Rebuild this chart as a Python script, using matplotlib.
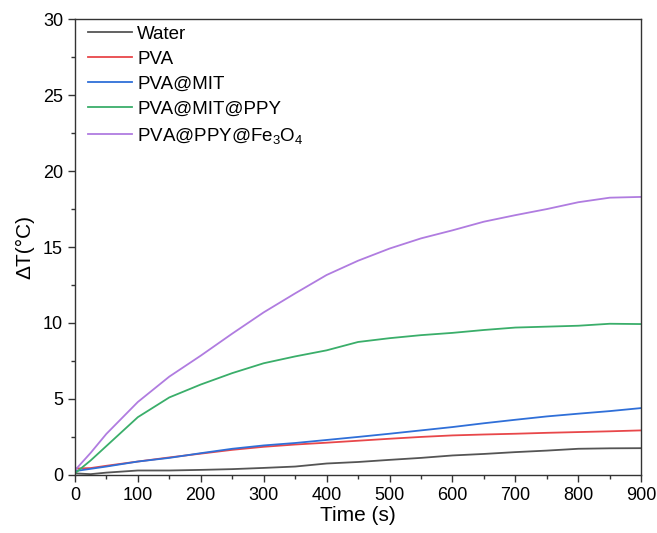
import matplotlib
matplotlib.use("Agg")
import matplotlib.pyplot as plt
from matplotlib.ticker import MultipleLocator

plt.rcParams['font.family'] = ['Liberation Sans', 'DejaVu Sans']
plt.rcParams['mathtext.fontset'] = 'custom'
plt.rcParams['mathtext.rm'] = 'Liberation Sans'
plt.rcParams['mathtext.it'] = 'Liberation Sans'

# time points (s)
t = [0, 25, 50, 100, 150, 200, 250, 300, 350, 400, 450, 500, 550, 600,
     650, 700, 750, 800, 850, 900]

# temperature rise
water = [0.1, 0.05, 0.15, 0.29, 0.29, 0.33, 0.38, 0.46, 0.55, 0.75, 0.85, 0.99, 1.12, 1.28,
         1.38, 1.5, 1.6, 1.72, 1.75, 1.76]
pva = [0.42, 0.45, 0.6, 0.88, 1.15, 1.4, 1.65, 1.85, 2.0, 2.12, 2.25, 2.38, 2.5, 2.6,
       2.66, 2.71, 2.77, 2.82, 2.87, 2.93]
pva_mit = [0.25, 0.4, 0.55, 0.88, 1.12, 1.43, 1.72, 1.94, 2.1, 2.3, 2.5, 2.71, 2.93, 3.15,
           3.4, 3.63, 3.85, 4.03, 4.2, 4.4]
pva_mit_ppy = [0.1, 0.95, 1.9, 3.8, 5.1, 5.95, 6.7, 7.35, 7.8, 8.2, 8.75, 9.0, 9.2, 9.35,
               9.54, 9.7, 9.76, 9.82, 9.95, 9.93]
pva_ppy_fe = [0.3, 1.45, 2.7, 4.8, 6.47, 7.85, 9.3, 10.7, 11.95, 13.16, 14.1, 14.9, 15.57, 16.1,
              16.67, 17.1, 17.5, 17.95, 18.25, 18.3]

labels = ['Water', 'PVA', 'PVA@MIT', 'PVA@MIT@PPY', 'PVA@PPY@Fe$_3$O$_4$']
colors = ['#555555', '#e8474a', '#2f6fd8', '#3aae6a', '#b07ce0']
series = [water, pva, pva_mit, pva_mit_ppy, pva_ppy_fe]

fig = plt.figure(figsize=(6.57, 5.33), dpi=100)
ax = fig.add_axes([0.114, 0.109, 0.862, 0.855])

for y, lab, c in zip(series, labels, colors):
    ax.plot(t, y, color=c, lw=1.3, label=lab)

ax.set_xlim(0, 900)
ax.set_ylim(0, 30)
ax.xaxis.set_major_locator(MultipleLocator(100))
ax.xaxis.set_minor_locator(MultipleLocator(50))
ax.yaxis.set_major_locator(MultipleLocator(5))
ax.yaxis.set_minor_locator(MultipleLocator(2.5))
ax.tick_params(which='both', direction='out', top=False, right=False,
               labelsize=13, color='#333333', width=1)
ax.tick_params(which='major', length=5)
ax.tick_params(which='minor', length=3)
for s in ax.spines.values():
    s.set_color('#333333')
    s.set_linewidth(1)

ax.set_xlabel('Time (s)', fontsize=15, labelpad=2)
ax.set_ylabel('ΔT(°C)', fontsize=15, labelpad=6)

ax.legend(loc='upper left', bbox_to_anchor=(0.012, 1.0), frameon=False,
          fontsize=13.5, handlelength=2.35, handletextpad=0.27,
          labelspacing=0.42, borderaxespad=0.0, borderpad=0.35)

fig.savefig('out.png', dpi=100)
